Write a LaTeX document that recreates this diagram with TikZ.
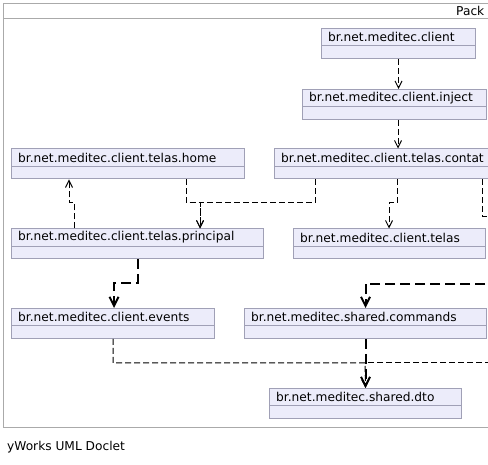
\documentclass[tikz,border=0pt]{standalone}
\usepackage{fontspec}
\setmainfont{DejaVu Sans}
\usetikzlibrary{arrows.meta}
\definecolor{pkgfill}{RGB}{236,236,250}
\definecolor{pkgline}{RGB}{160,160,182}
\definecolor{framegray}{RGB}{170,170,170}
\tikzset{
  pkgbox/.style={draw=pkgline, fill=pkgfill, line width=1pt, minimum height=30pt, inner sep=0pt, rectangle},
  pkgsep/.style={draw=pkgline, line width=1pt},
  pkglabel/.style={anchor=west, inner sep=0pt, font=\fontsize{12.2}{14}\selectfont},
  dep/.style={line width=1pt, dash pattern=on 6pt off 3pt, -{Straight Barb[length=7pt,width=7pt,line width=1pt]}},
  depthick/.style={line width=2pt, dash pattern=on 10pt off 5pt, -{Straight Barb[length=9pt,width=9pt,line width=2pt]}},
  depline/.style={line width=1pt, dash pattern=on 6pt off 3pt},
  framebox/.style={draw=framegray, line width=1pt, inner sep=0pt, rectangle}
}
\newcommand\pkgnode[5]{%
  \node[pkgbox, minimum width=#4pt, anchor=north west] (#1) at (#2,#3) {};
  \draw[pkgsep] ([yshift=-18pt]#1.north west) -- ([yshift=-18pt]#1.north east);
  \node[pkglabel] (#1-label) at ([xshift=7pt,yshift=-9pt]#1.north west) {#5};
}
\begin{document}
\begin{tikzpicture}[x=1pt,y=-1pt]
\useasboundingbox (0,0) rectangle (488,465);
\fill[white] (0,0) rectangle (488,465);
\clip (0,0) rectangle (488,465);
% frame
\node[framebox, anchor=north west, minimum width=520pt, minimum height=424pt] (frame) at (3,3) {};
\draw[framegray, line width=1pt] ([yshift=-16pt]frame.north west) -- ([yshift=-16pt]frame.north east);
\node[pkglabel] (packlabel) at (456,11) {Pack};
\node[pkglabel] (doclet) at (7,447) {yWorks UML Doclet};
% packages
\pkgnode{client}{321}{28}{154}{br.net.meditec.client}
\pkgnode{inject}{302}{89}{184}{br.net.meditec.client.inject}
\pkgnode{home}{11}{148.5}{233}{br.net.meditec.client.telas.home}
\pkgnode{contat}{274}{148.5}{240}{br.net.meditec.client.telas.contat}
\pkgnode{principal}{11}{228.5}{252}{br.net.meditec.client.telas.principal}
\pkgnode{telas}{293}{228.5}{192}{br.net.meditec.client.telas}
\pkgnode{events}{11}{308}{203}{br.net.meditec.client.events}
\pkgnode{commands}{244}{308}{242}{br.net.meditec.shared.commands}
\pkgnode{dto}{269}{388}{192}{br.net.meditec.shared.dto}
% off-picture ends
\coordinate (offA) at (500,217);
\coordinate (offB) at (500,284);
\coordinate (offC) at (500,363);
% connectors
\draw[dep] (client.south) -- (client.south |- inject.north);
\draw[dep] (inject.south -| 398,0) -- (contat.north -| 398,0);
\draw[dep] (contat.south -| 397,0) |- (389,203) -- (telas.north -| 389,0);
\draw[dep] (contat.south -| 315,0) |- (200,203) -- (principal.north -| 200,0);
\draw[dep] (home.south -| 186,0) |- (200,203) -- (principal.north -| 200,0);
\draw[dep] (principal.north -| 74,0) |- (69,203) -- (home.south -| 69,0);
\draw[depline] (contat.south -| 482,0) |- (offA);
\draw[depthick] (principal.south) |- (114,283) -- (events.north -| 114,0);
\draw[depthick] (offB) -| (commands.north);
\draw[depline] (offC) -- (365,363);
\draw[dep] (events.south) |- (365,363) -- (dto.north);
\draw[depthick] (commands.south) -- (dto.north);
\end{tikzpicture}
\end{document}
